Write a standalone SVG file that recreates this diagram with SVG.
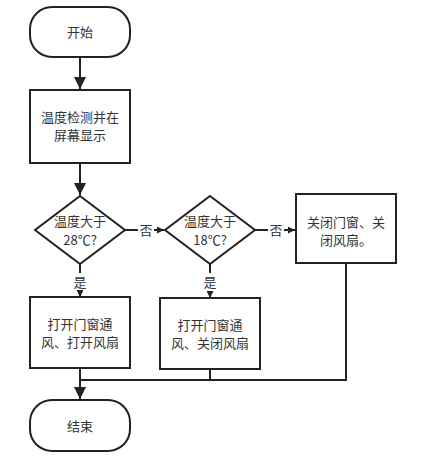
<svg xmlns="http://www.w3.org/2000/svg" width="424" height="459" viewBox="0 0 424 459">
<style>
.s{fill:#fff;stroke:#222;stroke-width:2}
.c{fill:none;stroke:#222;stroke-width:2}
.t{font-family:"Noto Sans CJK SC","Liberation Sans",sans-serif;font-size:13px;fill:#333;text-anchor:middle}
</style>
<defs>
<marker id="a" markerWidth="12" markerHeight="12" refX="10" refY="5" orient="auto" markerUnits="userSpaceOnUse" viewBox="0 0 10 10"><path d="M0,0 L10,5 L0,10 z" fill="#222"/></marker>
<marker id="b" markerWidth="7" markerHeight="7" refX="10" refY="5" orient="auto" markerUnits="userSpaceOnUse" viewBox="0 0 10 10"><path d="M0,0 L10,5 L0,10 z" fill="#222"/></marker>
</defs>
<rect width="424" height="459" fill="#fff"/>
<g id="connectors">
<path class="c" d="M80,57 V89" marker-end="url(#a)"/>
<path class="c" d="M80,163 V195" marker-end="url(#a)"/>
<path class="c" d="M125,230 H138"/>
<path class="c" d="M154,230 H164" marker-end="url(#b)"/>
<text class="t" x="146" y="235">否</text>
<path class="c" d="M255,230 H268"/>
<path class="c" d="M284,230 H295" marker-end="url(#b)"/>
<text class="t" x="276" y="235">否</text>
<path class="c" d="M80,264 V273"/>
<path class="c" d="M80,291 V297" marker-end="url(#b)"/>
<text class="t" x="80" y="287">是</text>
<path class="c" d="M210,264 V273"/>
<path class="c" d="M210,291 V298" marker-end="url(#b)"/>
<text class="t" x="210" y="287">是</text>
<path class="c" d="M346,263 V380 H80"/>
<path class="c" d="M210,369 V380"/>
<path class="c" d="M80,368 V399" marker-end="url(#a)"/>
</g>
<g id="start">
<rect class="s" x="30" y="7" width="100" height="50" rx="22"/>
<text class="t" x="80" y="37">开始</text>
</g>
<g id="detect">
<rect class="s" x="30" y="90" width="100" height="73"/>
<text class="t" x="80" y="122">温度检测并在</text>
<text class="t" x="80" y="140">屏幕显示</text>
</g>
<g id="d28">
<polygon class="s" points="80,196 125,230 80,264 35,230"/>
<text class="t" x="80" y="226">温度大于</text>
<text class="t" x="80" y="245">28℃?</text>
</g>
<g id="d18">
<polygon class="s" points="210,196 255,230 210,264 165,230"/>
<text class="t" x="210" y="226">温度大于</text>
<text class="t" x="210" y="245">18℃?</text>
</g>
<g id="closeall">
<rect class="s" x="296" y="194" width="100" height="69"/>
<text class="t" x="346" y="227">关闭门窗、关</text>
<text class="t" x="346" y="245">闭风扇。</text>
</g>
<g id="openfan">
<rect class="s" x="30" y="297" width="100" height="71"/>
<text class="t" x="80" y="329">打开门窗通</text>
<text class="t" x="80" y="347">风、打开风扇</text>
</g>
<g id="closefan">
<rect class="s" x="160" y="298" width="100" height="71"/>
<text class="t" x="210" y="330">打开门窗通</text>
<text class="t" x="210" y="348">风、关闭风扇</text>
</g>
<g id="end">
<rect class="s" x="30" y="400" width="100" height="51" rx="22"/>
<text class="t" x="80" y="431">结束</text>
</g>
</svg>
